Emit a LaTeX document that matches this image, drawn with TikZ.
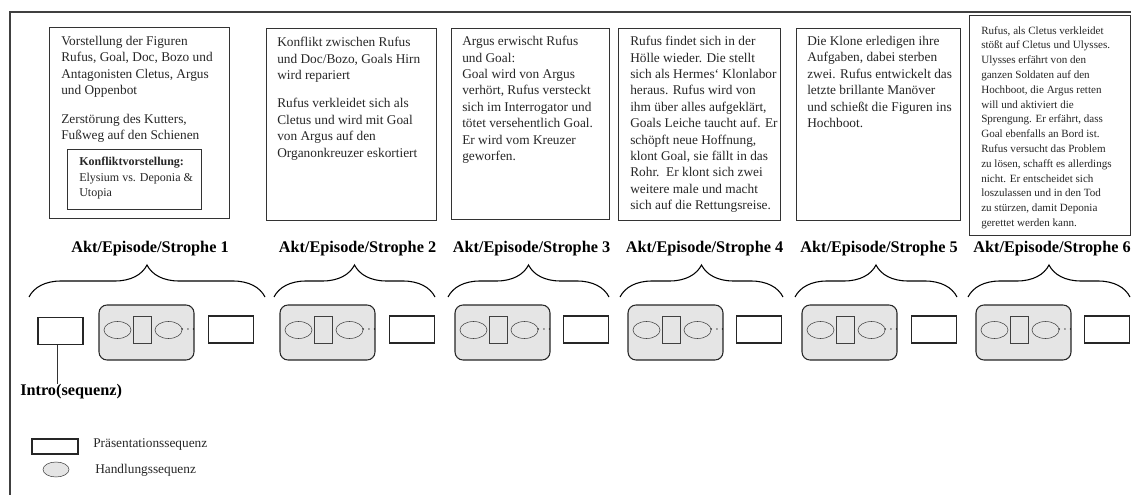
\documentclass[tikz,border=0pt]{standalone}
\usepackage{fontspec}
\setmainfont{Liberation Serif}
\usetikzlibrary{positioning, shapes.geometric, decorations.pathreplacing, calc}

\def\px{0.75pt}

\tikzset{
    storybox/.style={draw=black!80, line width=0.7pt, anchor=north west, inner sep=0pt},
    storytext/.style={anchor=north west, inner sep=0pt, align=left, text=black!85,
        font=\fontsize{10}{12.3}\selectfont},
    smalltext/.style={storytext, font=\fontsize{8.3}{11.1}\selectfont},
    aktlabel/.style={inner sep=0pt, font=\fontsize{12.2}{14}\selectfont\bfseries},
    praesbox/.style={draw=black!85, line width=0.8pt, fill=white, inner sep=0pt,
        minimum width=45*\px, minimum height=27*\px},
    handlbox/.style={draw=black!85, line width=0.8pt, fill=black!10, rounded corners=6pt,
        minimum width=95*\px, minimum height=55*\px},
    handlell/.style={ellipse, draw=black!75, fill=black!10, inner sep=0pt,
        minimum width=27*\px, minimum height=17*\px},
    handlrect/.style={draw=black!75, fill=black!10, inner sep=0pt,
        minimum width=18*\px, minimum height=27*\px},
    dotsnode/.style={inner sep=0pt, font=\small},
    aktbrace/.style={decorate, decoration={brace, amplitude=24pt}, line width=0.8pt},
    legtext/.style={anchor=west, inner sep=0pt, text=black!85, font=\fontsize{10}{12}\selectfont}
}

\begin{document}
\begin{tikzpicture}[x=\px, y=-\px]
    \useasboundingbox (0,0) rectangle (1131,495);

    % frame
    \draw[black!75, line width=0.8pt] (10,495) -- (10,12) -- (1131,12);

    % story boxes
    \foreach \name/\l/\t/\r/\b in {
        box1/49/27/229/218,
        box2/266/28/436/220,
        box3/451/28/609/219,
        box4/618/28/780/220,
        box5/796/28/960/220,
        box6/969/15/1130/235}{
        \node[storybox, minimum width=(\r-\l)*\px, minimum height=(\b-\t)*\px]
            (\name) at (\l,\t) {};
    }
    \node[storybox, minimum width=134*\px, minimum height=60*\px] (konflikt) at (67,149) {};

    % story texts
    \node[storytext] (text1) at ([shift={(12,9)}]box1.north west)
        {Vorstellung der Figuren\\
         Rufus, Goal, Doc, Bozo und\\
         Antagonisten Cletus, Argus\\
         und Oppenbot\\[9pt]
         Zerstörung des Kutters,\\
         Fußweg auf den Schienen};
    \node[storytext, font=\fontsize{9}{11.6}\selectfont] (konflikttext)
        at ([shift={(12,8)}]konflikt.north west)
        {\textbf{Konfliktvorstellung:}\\
         Elysium vs. Deponia \&\\
         Utopia};
    \node[storytext] (text2) at ([shift={(11,9)}]box2.north west)
        {Konflikt zwischen Rufus\\
         und Doc/Bozo, Goals Hirn\\
         wird repariert\\[9pt]
         Rufus verkleidet sich als\\
         Cletus und wird mit Goal\\
         von Argus auf den\\
         Organonkreuzer eskortiert};
    \node[storytext] (text3) at ([shift={(11,8)}]box3.north west)
        {Argus erwischt Rufus\\
         und Goal:\\
         Goal wird von Argus\\
         verhört, Rufus versteckt\\
         sich im Interrogator und\\
         tötet versehentlich Goal.\\
         Er wird vom Kreuzer\\
         geworfen.};
    \node[storytext] (text4) at ([shift={(12,8)}]box4.north west)
        {Rufus findet sich in der\\
         Hölle wieder. Die stellt\\
         sich als Hermes‘ Klonlabor\\
         heraus. Rufus wird von\\
         ihm über alles aufgeklärt,\\
         Goals Leiche taucht auf. Er\\
         schöpft neue Hoffnung,\\
         klont Goal, sie fällt in das\\
         Rohr.\ \ Er klont sich zwei\\
         weitere male und macht\\
         sich auf die Rettungsreise.};
    \node[storytext] (text5) at ([shift={(11,8)}]box5.north west)
        {Die Klone erledigen ihre\\
         Aufgaben, dabei sterben\\
         zwei. Rufus entwickelt das\\
         letzte brillante Manöver\\
         und schießt die Figuren ins\\
         Hochboot.};
    \node[smalltext] (text6) at ([shift={(12,11)}]box6.north west)
        {Rufus, als Cletus verkleidet\\
         stößt auf Cletus und Ulysses.\\
         Ulysses erfährt von den\\
         ganzen Soldaten auf den\\
         Hochboot, die Argus retten\\
         will und aktiviert die\\
         Sprengung. Er erfährt, dass\\
         Goal ebenfalls an Bord ist.\\
         Rufus versucht das Problem\\
         zu lösen, schafft es allerdings\\
         nicht. Er entscheidet sich\\
         loszulassen und in den Tod\\
         zu stürzen, damit Deponia\\
         gerettet werden kann.};

    % labels and braces
    \foreach \i/\l/\r in {1/29/265, 2/274/435, 3/448/609, 4/620/783, 5/795/957, 6/968/1130}{
        \draw[aktbrace] (\l,297) -- (\r,297);
        \node[aktlabel] (akt\i) at ({(\l+\r)/2+3}, 249) {Akt/Episode/Strophe \i};
    }

    % sequences
    \node[praesbox] (intro) at (60.5,331) {};
    \foreach \i/\gx/\wx in {1/99/209, 2/280/390, 3/455/564, 4/628/737, 5/802/912, 6/976/1085}{
        \node[handlbox] (h\i) at (\gx+47.5, 332.5) {};
        \node[handlell] (h\i-a) at (\gx+18.5, 330) {};
        \node[handlrect] (h\i-b) at (\gx+43.5, 329.5) {};
        \node[handlell] (h\i-c) at (\gx+69.5, 330) {};
        \node[dotsnode] (h\i-d) at (\gx+89, 330) {$\cdots$};
        \node[praesbox] (p\i) at (\wx+22, 329.5) {};
    }

    % intro label
    \node[aktlabel, anchor=west] (introlbl) at (20,392) {Intro(sequenz)};
    \draw[black!80] ([xshift=-3*\px]intro.south) -- ([xshift=-3*\px]intro.south |- introlbl.north);

    % legend
    \node[praesbox, minimum width=46*\px, minimum height=15*\px] (legp) at (55,446.5) {};
    \node[legtext] (legptext) at (93,445) {Präsentationssequenz};
    \node[handlell, minimum width=26*\px, minimum height=15*\px] (legh) at (56,469.5) {};
    \node[legtext] (leghtext) at (95,470) {Handlungssequenz};
\end{tikzpicture}
\end{document}
